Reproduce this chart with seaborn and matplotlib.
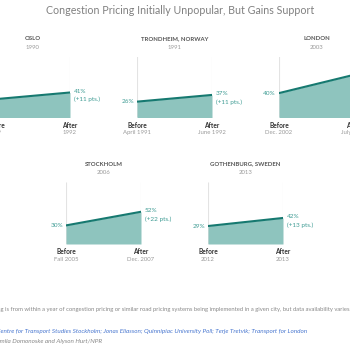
import matplotlib
matplotlib.use("Agg")
import matplotlib.pyplot as plt
import seaborn as sns
import pandas as pd

sns.set_theme(style="white")
plt.rcParams["font.family"] = ["Lato", "DejaVu Sans"]

# Poll data: share of residents supporting congestion pricing
cities = ["OSLO", "TRONDHEIM, NORWAY", "LONDON", "STOCKHOLM", "GOTHENBURG, SWEDEN"]
launch_years = ["1990", "1991", "2003", "2006", "2013"]
support_before = [30, 26, 40, 30, 29]
support_after = [41, 37, 70, 52, 42]
date_before = ["1989", "April 1991", "Dec. 2002", "Fall 2005", "2012"]
date_after = ["1992", "June 1992", "July 2003", "Dec. 2007", "2013"]
phases = ["Before", "After"]

FILL = "#8ec4be"
LINE = "#167970"
VALUE = "#3f9c94"
GRID = "#e3e3e3"
DARK = "#333333"
GREY = "#9a9a9a"

W, H = 350, 350
fig = plt.figure(figsize=(3.5, 3.5), dpi=100)
fig.patch.set_facecolor("white")

# panel boxes in pixels: (left, top, width, height)
boxes = [(-5, 56.5, 75, 61), (137, 56.5, 75, 61), (279, 56.5, 75, 61),
         (66, 182, 75, 62), (208, 182, 75, 62)]

for i, city in enumerate(cities):
    l, t, w, h = boxes[i]
    ax = fig.add_axes([l / W, 1 - (t + h) / H, w / W, h / H])
    df = pd.DataFrame({"x": [0, 1], "support": [support_before[i], support_after[i]]})
    ax.fill_between(df["x"], 0, df["support"], color=FILL, lw=0, zorder=1)
    sns.lineplot(data=df, x="x", y="support", ax=ax, color=LINE, lw=1.5, zorder=3)
    ax.vlines([0, 1], 0, 100, color=GRID, lw=0.8, zorder=0)
    ax.set_xlim(0, 1)
    ax.set_ylim(0, 100)
    ax.set_xticks([])
    ax.set_yticks([])
    ax.set_xlabel("")
    ax.set_ylabel("")
    for s in ax.spines.values():
        s.set_visible(False)
    ax.patch.set_alpha(0)

    ax.annotate(city, xy=(0.5, 100), xytext=(0, 18), textcoords="offset pixels",
                xycoords="data", ha="center", va="center", fontsize=4.3,
                fontweight="bold", color="#555555", annotation_clip=False)
    ax.annotate(launch_years[i], xy=(0.5, 100), xytext=(0, 9), textcoords="offset pixels",
                ha="center", va="center", fontsize=4.3, color=GREY, annotation_clip=False)

    for j, ph in enumerate(phases):
        dates = date_before if j == 0 else date_after
        ax.annotate(ph, xy=(j, 0), xytext=(0, -8), textcoords="offset pixels",
                    ha="center", va="center", fontsize=4.7, fontweight="bold",
                    color=DARK, annotation_clip=False)
        ax.annotate(dates[i], xy=(j, 0), xytext=(0, -15.5), textcoords="offset pixels",
                    ha="center", va="center", fontsize=4.3, color=GREY,
                    annotation_clip=False)

    ax.annotate(f"{support_before[i]}%", xy=(0, support_before[i]), xytext=(-3, 0),
                textcoords="offset pixels", ha="right", va="center", fontsize=4.6,
                color=VALUE, annotation_clip=False)
    gain = support_after[i] - support_before[i]
    ax.annotate(f"{support_after[i]}%", xy=(1, support_after[i]), xytext=(4, 1),
                textcoords="offset pixels", ha="left", va="center", fontsize=4.6,
                color=VALUE, annotation_clip=False)
    ax.annotate(f"(+{gain} pts.)", xy=(1, support_after[i]), xytext=(4, -7),
                textcoords="offset pixels", ha="left", va="center", fontsize=4.6,
                color=VALUE, annotation_clip=False)

fig.text(180 / W, 1 - 10 / H, "Congestion Pricing Initially Unpopular, But Gains Support",
         ha="center", va="center", fontsize=7.7, color="#808080")

fig.text(-30 / W, 1 - 310 / H,
         "Note: Polling is from within a year of congestion pricing or similar road pricing "
         "systems being implemented in a given city, but data availability varies.",
         ha="left", va="center", fontsize=4.2, color="#888888")
fig.text(-27 / W, 1 - 331.5 / H,
         "Sources: Centre for Transport Studies Stockholm; Jonas Eliasson; Quinnipiac "
         "University Poll; Terje Tretvik; Transport for London",
         ha="left", va="center", fontsize=4.55, color="#4a78d0", style="italic")
fig.text(-27 / W, 1 - 341.5 / H, "Credit: Camila Domonoske and Alyson Hurt/NPR",
         ha="left", va="center", fontsize=4.55, color="#888888", style="italic")

fig.savefig("out.png", dpi=100, facecolor="white")
